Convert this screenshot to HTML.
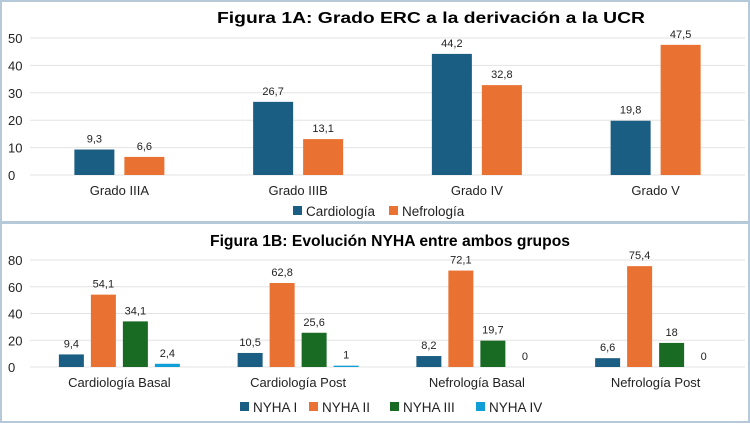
<!DOCTYPE html>
<html><head><meta charset="utf-8"><style>
body{margin:0;background:#fff;font-family:"Liberation Sans",sans-serif}
svg text{font-family:"Liberation Sans",sans-serif}
</style></head><body>
<svg width="750" height="423" viewBox="0 0 750 423" xmlns="http://www.w3.org/2000/svg">
<rect x="1" y="1" width="748" height="221" fill="#fff" stroke="#b5c9d8" stroke-width="2"/>
<rect x="1" y="223" width="748" height="199" fill="#fff" stroke="#b5c9d8" stroke-width="2"/>
<text x="431" y="23" text-anchor="middle" font-size="16" font-weight="bold" fill="#000" textLength="428" lengthAdjust="spacingAndGlyphs">Figura 1A: Grado ERC a la derivación a la UCR</text>
<text x="390" y="246" text-anchor="middle" font-size="16" font-weight="bold" fill="#000" textLength="360" lengthAdjust="spacingAndGlyphs">Figura 1B: Evolución NYHA entre ambos grupos</text>
<g id="c1"></g><g id="c2"></g>
</svg>
<script>
const catsA=["Grado IIIA","Grado IIIB","Grado IV","Grado V"];
const cardA=[9.3,26.7,44.2,19.8];
const nefA=[6.6,13.1,32.8,47.5];
const ticksA=[0,10,20,30,40,50];
const catsB=["Cardiología Basal","Cardiología Post","Nefrología Basal","Nefrología Post"];
const nyha1=[9.4,10.5,8.2,6.6];
const nyha2=[54.1,62.8,72.1,75.4];
const nyha3=[34.1,25.6,19.7,18];
const nyha4=[2.4,1,0,0];
const ticksB=[0,20,40,60,80];
const NS="http://www.w3.org/2000/svg";
function mk(p,t,a){const e=document.createElementNS(NS,t);for(const k in a)e.setAttribute(k,a[k]);p.appendChild(e);return e;}
const fmt=v=>String(v).replace('.',',');
function chart(g,cats,series,names,colors,ticks,max,y0,y1,bw,step,legendY,legendXs){
  const x0=30,x1=745,cw=(x1-x0)/cats.length;
  const ys=v=>y0-(v/max)*(y0-y1);
  ticks.forEach(t=>{
    const l=mk(g,'line',{x1:x0,x2:x1,y1:ys(t),y2:ys(t),stroke:'#e3e3e3','stroke-width':1});
    
    
    const tx=mk(g,'text',{x:8,y:ys(t)+5,'font-size':13,fill:'#222'});
    tx.textContent=t;
    
    
  });
  cats.forEach((c,i)=>{
    const cx=x0+cw*(i+0.5);
    const n=series.length;
    series.forEach((s,j)=>{
      const bx=cx+(j-(n-1)/2)*step-bw/2;
      const v=s[i];
      const h=y0-ys(v);
      const r=mk(g,'rect',{x:bx,y:ys(v),width:bw,height:h,fill:colors[j]});
      
      
      const t=mk(g,'text',{x:bx+bw/2,y:ys(v)-7,'text-anchor':'middle','font-size':11,fill:'#222'});
      t.textContent=fmt(v);
      
      
    });
    const ct=mk(g,'text',{x:cx,y:y0+20,'text-anchor':'middle','font-size':13,fill:'#222'});
    ct.textContent=c;
    
    
  });
  names.forEach((nm,j)=>{
    const r=mk(g,'rect',{x:legendXs[j],y:legendY-10,width:9,height:9,fill:colors[j]});
    
    
    const t=mk(g,'text',{x:legendXs[j]+13,y:legendY,'font-size':13.5,fill:'#222'});
    t.textContent=nm;
    
    
  });
}
chart(document.getElementById('c1'),catsA,[cardA,nefA],["Cardiología","Nefrología"],["#1b5e83","#e97132"],ticksA,50,175,38,40,50,216,[293,389]);
chart(document.getElementById('c2'),catsB,[nyha1,nyha2,nyha3,nyha4],["NYHA I","NYHA II","NYHA III","NYHA IV"],["#1b5e83","#e97132","#196b24","#0f9ed5"],ticksB,80,367,260,25,32,412,[240,309,390,476]);
</script>
</body></html>
